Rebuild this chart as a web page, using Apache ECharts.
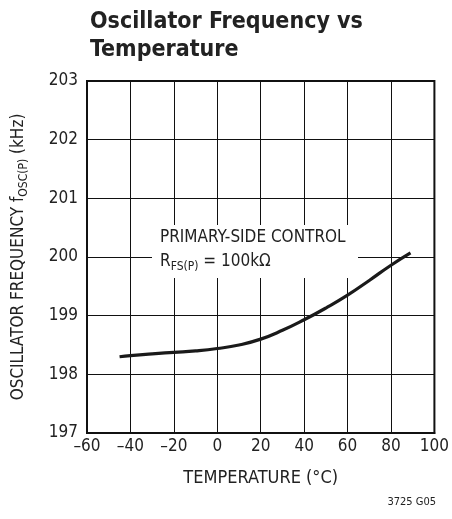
<!DOCTYPE html>
<html><head><meta charset="utf-8">
<script src="https://cdn.jsdelivr.net/npm/echarts@6/dist/echarts.min.js"></script>
<style>html,body{margin:0;padding:0;background:#fff}#c{width:452px;height:519px}</style>
</head><body><div id="c"></div>
<script>
var temperature = [-45, -40, -30, -20, -10, 0, 10, 20, 30, 40, 50, 60, 70, 80, 89];
var frequency = [198.30, 198.32, 198.35, 198.375, 198.40, 198.44, 198.50, 198.60, 198.75, 198.93, 199.13, 199.35, 199.60, 199.86, 200.07];
var xTicks = [-60, -40, -20, 0, 20, 40, 60, 80, 100];
var yTicks = [197, 198, 199, 200, 201, 202, 203];

var FONT = "'Liberation Sans Narrow','DejaVu Sans Condensed','Roboto',sans-serif";
var chart = echarts.init(document.getElementById('c'));
var pts = temperature.map(function (t, i) { return [t, frequency[i]]; });
chart.setOption({
  animation: false,
  title: {
    text: 'Oscillator Frequency vs\nTemperature',
    left: 85, top: 3,
    textStyle: { fontFamily: FONT, fontWeight: 'bold', fontSize: 23, lineHeight: 28, color: '#222' }
  },
  grid: { left: 85, right: 16, top: 81, bottom: 86, show: true, borderColor: '#111', borderWidth: 2, backgroundColor: 'transparent' },
  xAxis: {
    type: 'value', min: xTicks[0], max: xTicks[xTicks.length - 1], interval: 20,
    name: 'TEMPERATURE (°C)', nameLocation: 'middle', nameGap: 36,
    nameTextStyle: { fontFamily: FONT, fontSize: 18, color: '#222' },
    axisLine: { show: true, onZero: false, lineStyle: { color: '#111', width: 2 } },
    axisTick: { show: false },
    axisLabel: { fontFamily: FONT, fontSize: 17, color: '#222', margin: 5,
      formatter: function (v) { return String(v).replace('-', '\u2013'); } },
    splitLine: { show: true, lineStyle: { color: '#111', width: 1 } }
  },
  yAxis: {
    type: 'value', min: yTicks[0], max: yTicks[yTicks.length - 1], interval: 1,
    name: '{a|OSCILLATOR FREQUENCY f}{s|OSC(P)}{a| (kHz)}', nameLocation: 'middle', nameGap: 58,
    nameTextStyle: { fontFamily: FONT, color: '#222',
      rich: {
        a: { fontFamily: FONT, fontSize: 17, color: '#222', lineHeight: 20 },
        s: { fontFamily: FONT, fontSize: 12, color: '#222', lineHeight: 12, padding: [10, 0, 0, 0] }
      } },
    axisLine: { show: true, onZero: false, lineStyle: { color: '#111', width: 2 } },
    axisTick: { show: false },
    axisLabel: { fontFamily: FONT, fontSize: 17, color: '#222', margin: 9 },
    splitLine: { show: true, lineStyle: { color: '#111', width: 1 } }
  },
  graphic: [
    { type: 'rect', z: 100, shape: { x: 152, y: 225, width: 206, height: 53 }, style: { fill: '#fff' } },
    { type: 'text', z: 101, left: 160, top: 229, style: { text: 'PRIMARY-SIDE CONTROL', font: '17px ' + FONT, fill: '#222' } },
    { type: 'text', z: 101, left: 160, top: 251, style: {
        text: '{a|R}{s|FS(P)}{a| = 100kΩ}',
        rich: {
          a: { fontFamily: FONT, fontSize: 17, lineHeight: 20, fill: '#222', color: '#222' },
          s: { fontFamily: FONT, fontSize: 12, lineHeight: 12, padding: [10, 0, 0, 0], fill: '#222', color: '#222' }
        } } },
    { type: 'text', z: 101, right: 16, top: 497, style: { text: '3725 G05', font: '11px ' + FONT, fill: '#222' } }
  ],
  series: [{
    type: 'line', data: pts, smooth: true, showSymbol: false, symbol: 'none',
    lineStyle: { color: '#1a1a1a', width: 3.2 }, z: 5
  }]
});
</script></body></html>
